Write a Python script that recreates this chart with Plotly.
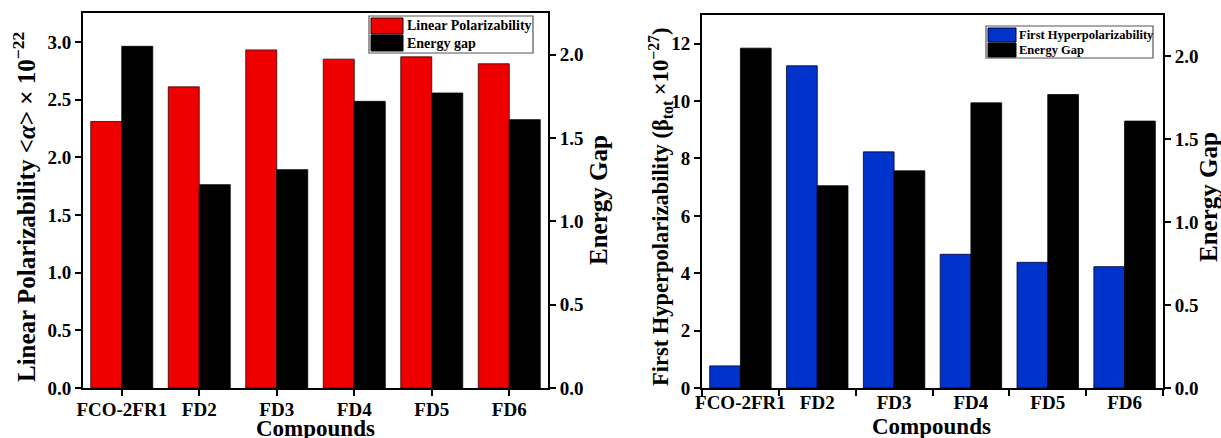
import plotly.graph_objects as go

# ---------------- data ----------------
compounds = ["FCO-2FR1", "FD2", "FD3", "FD4", "FD5", "FD6"]
linear_polarizability = [2.31, 2.61, 2.93, 2.85, 2.87, 2.81]
energy_gap = [2.05, 1.22, 1.31, 1.72, 1.77, 1.61]
first_hyperpolarizability = [0.77, 11.23, 8.23, 4.66, 4.38, 4.23]

left_y_ticks = [0.0, 0.5, 1.0, 1.5, 2.0, 2.5, 3.0]
right_y_ticks = [0, 2, 4, 6, 8, 10, 12]
gap_ticks = [0.0, 0.5, 1.0, 1.5, 2.0]

# ---------------- styling ----------------
W, H = 1221, 438
FONT = "Liberation Serif, Times New Roman, serif"
RED = "#EE0000"
BLUE = "#0033CC"
BLACK = "#000000"


def px_x(p):
    return p / W


def px_y(p):
    return 1 - p / H


tick_font = dict(family=FONT, size=19, color="black", weight="bold")
title_font = dict(family=FONT, size=23, color="black", weight="bold")
ytitle_font_l = dict(family=FONT, size=25, color="black", weight="bold")
ytitle_font_r = dict(family=FONT, size=22.5, color="black", weight="bold")
leg_font_l = dict(family=FONT, size=14, color="black", weight="bold")
leg_font_r = dict(family=FONT, size=12.5, color="black", weight="bold")

fig = go.Figure()

# Left chart
fig.add_trace(go.Bar(x=compounds, y=linear_polarizability, name="Linear Polarizability",
                     marker=dict(color=RED, line=dict(color="#300000", width=0.8)),
                     width=0.4, offset=-0.4, xaxis="x", yaxis="y", showlegend=False))
fig.add_trace(go.Bar(x=compounds, y=energy_gap, name="Energy gap",
                     marker=dict(color=BLACK, line=dict(color=BLACK, width=0.8)),
                     width=0.4, offset=0.0, xaxis="x", yaxis="y2", showlegend=False))
# Right chart
fig.add_trace(go.Bar(x=compounds, y=first_hyperpolarizability, name="First Hyperpolarizability",
                     marker=dict(color=BLUE, line=dict(color="#000030", width=0.8)),
                     width=0.4, offset=-0.4, xaxis="x2", yaxis="y3", showlegend=False))
fig.add_trace(go.Bar(x=compounds, y=energy_gap, name="Energy Gap",
                     marker=dict(color=BLACK, line=dict(color=BLACK, width=0.8)),
                     width=0.4, offset=0.0, xaxis="x2", yaxis="y4", showlegend=False))

L_X0, L_X1, L_Y0, L_Y1 = 83, 548, 13, 388
R_X0, R_X1, R_Y0, R_Y1 = 702, 1163, 15, 388

axis_common = dict(showline=True, linecolor="black", linewidth=2, ticks="outside",
                   ticklen=6, tickwidth=2, tickcolor="black", showgrid=False,
                   zeroline=False, automargin=False, tickfont=tick_font)

fig.update_layout(
    width=W, height=H, autosize=False,
    margin=dict(l=0, r=0, t=0, b=0),
    paper_bgcolor="white", plot_bgcolor="white",
    barmode="overlay",
    showlegend=False,
    xaxis=dict(domain=[px_x(L_X0), px_x(L_X1)], anchor="y", range=[-0.5, 5.5],
               mirror=True, tickangle=0, ticklabelstandoff=-3, **axis_common),
    yaxis=dict(domain=[px_y(L_Y1), px_y(L_Y0)], anchor="x", range=[0, 3.25],
               tickvals=left_y_ticks, tickformat=".1f", **axis_common),
    yaxis2=dict(overlaying="y", side="right", anchor="x", range=[0, 2.25],
                tickvals=gap_ticks, tickformat=".1f", **axis_common),
    xaxis2=dict(domain=[px_x(R_X0), px_x(R_X1)], anchor="y3", range=[-0.5, 5.5],
                mirror=True, tickson="boundaries", tickangle=0, ticklabelstandoff=-4,
                **axis_common),
    yaxis3=dict(domain=[px_y(R_Y1), px_y(R_Y0)], anchor="x2", range=[0, 13],
                tickvals=right_y_ticks, **axis_common),
    yaxis4=dict(overlaying="y3", side="right", anchor="x2", range=[0, 2.25],
                tickvals=gap_ticks, tickformat=".1f", **axis_common),
)

annotations = [
    # left chart titles
    dict(text="Linear Polarizability &lt;<i>α</i>&gt; × 10<sup>−22</sup>", x=px_x(24), y=px_y(207),
         textangle=-90, font=ytitle_font_l),
    dict(text="Energy Gap", x=px_x(598), y=px_y(200), textangle=-90, font=ytitle_font_l),
    dict(text="Compounds", x=px_x(315), y=px_y(414), yanchor="top", font=title_font),
    # right chart titles
    dict(text="First Hyperpolarizability (β<sub>tot</sub> ×10<sup>−27</sup>)", x=px_x(660), y=px_y(207),
         textangle=-90, font=ytitle_font_r),
    dict(text="Energy Gap", x=px_x(1209), y=px_y(197), textangle=-90, font=ytitle_font_l),
    dict(text="Compounds", x=px_x(931), y=px_y(412), yanchor="top", font=title_font),
    # legend texts
    dict(text="Linear Polarizability", x=px_x(405), y=px_y(25.5), xanchor="left", font=leg_font_l),
    dict(text="Energy gap", x=px_x(405), y=px_y(43), xanchor="left", font=leg_font_l),
    dict(text="First Hyperpolarizability", x=px_x(1017), y=px_y(35), xanchor="left", font=leg_font_r),
    dict(text="Energy Gap", x=px_x(1017), y=px_y(50), xanchor="left", font=leg_font_r),
]
for a in annotations:
    a.update(xref="paper", yref="paper", showarrow=False)
    a.setdefault("xanchor", "center")
    a.setdefault("yanchor", "middle")
fig.update_layout(annotations=annotations)


def rect(x0, y0, x1, y1, fill, line_color="black", lw=1):
    return dict(type="rect", xref="paper", yref="paper",
                x0=px_x(x0), x1=px_x(x1), y0=px_y(y1), y1=px_y(y0),
                fillcolor=fill, line=dict(color=line_color, width=lw))


shapes = [
    # left legend
    rect(369, 16, 533, 53, "white", "#555555", 1.2),
    rect(371, 18, 403, 34, RED, "#300000", 1),
    rect(371, 35, 403, 51, BLACK, BLACK, 1),
    # right legend
    rect(986, 26, 1153, 58, "white", "#555555", 1.2),
    rect(988, 28, 1016, 42, BLUE, "#000030", 1),
    rect(988, 43, 1016, 57, BLACK, BLACK, 1),
]
fig.update_layout(shapes=shapes)

fig.write_html("out.html", config={"displayModeBar": False},
               post_script="document.body.style.margin='0';document.body.style.overflow='hidden';")
